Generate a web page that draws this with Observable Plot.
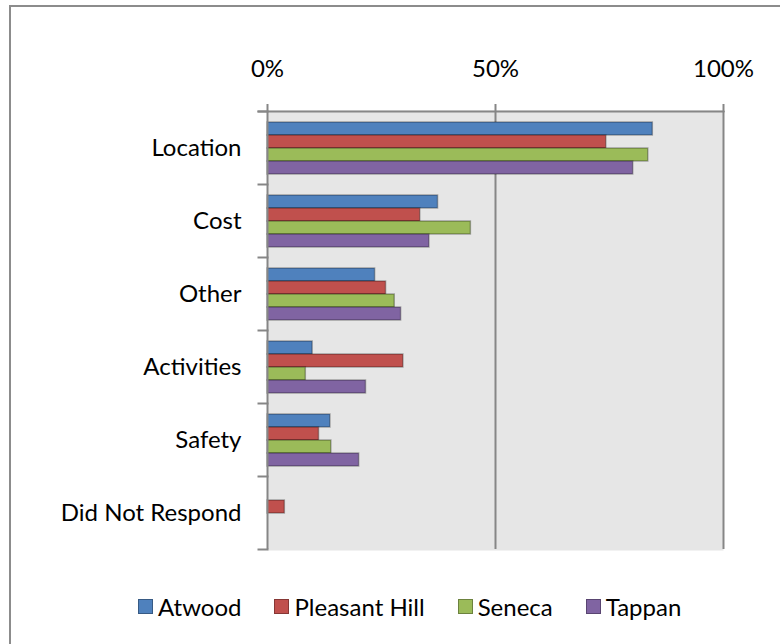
<!DOCTYPE html>
<html>
<head>
<meta charset="utf-8">
<script src="https://cdn.jsdelivr.net/npm/d3@7"></script>
<script src="https://cdn.jsdelivr.net/npm/@observablehq/plot@0.6"></script>
<style>
  html, body { margin: 0; padding: 0; background: #fff; overflow: hidden; width: 780px; height: 644px; }
  #border { position: absolute; left: 9px; top: 5px; width: 900px; height: 900px; border: 2px solid #8c8c8c; pointer-events: none; }
  #chart { position: absolute; left: 0; top: 0; }
  #legend { position: absolute; left: 138px; top: 592px; display: flex; align-items: center; font-family: Lato, sans-serif; font-size: 24px; color: #000; }
  .item { display: flex; align-items: center; margin-right: 33px; }
  .sw { width: 15px; height: 15px; margin-right: 5px; box-sizing: border-box; border: 1.5px solid rgba(0,0,0,0.3); }
</style>
</head>
<body>
<div id="border"></div>
<div id="chart"></div>
<div id="legend"></div>
<script>
const categories = ["Location", "Cost", "Other", "Activities", "Safety", "Did Not Respond"];
const series = ["Atwood", "Pleasant Hill", "Seneca", "Tappan"];
const atwood       = [0.845, 0.374, 0.236, 0.099, 0.138, 0];
const pleasantHill = [0.743, 0.335, 0.260, 0.298, 0.113, 0.038];
const seneca       = [0.835, 0.446, 0.279, 0.084, 0.140, 0];
const tappan       = [0.802, 0.355, 0.293, 0.216, 0.201, 0];
const tickValues = [0, 0.5, 1];
const tickLabels = ["0%", "50%", "100%"];
const colors = ["#4F81BD", "#C0504D", "#9BBB59", "#8064A2"];

const seriesValues = [atwood, pleasantHill, seneca, tappan];
const data = [];
categories.forEach((c, i) => {
  series.forEach((s, j) => {
    const v = seriesValues[j][i];
    if (v > 0) data.push({category: c, series: s, value: v});
  });
});

const W = 780, mL = 267, mR = 57;
const plotW = W - mL - mR;
const gray = "#868686";

const chart = Plot.plot({
  width: W,
  height: 570,
  marginLeft: mL,
  marginRight: mR,
  marginTop: 110,
  marginBottom: 20,
  style: {fontFamily: "Lato, sans-serif", fontSize: "24px", color: "#000", background: "transparent"},
  x: {domain: [0, 1]},
  y: {domain: series, paddingInner: 0, paddingOuter: 0.75, axis: null},
  fy: {domain: categories, padding: 0, label: null},
  color: {domain: series, range: colors},
  marks: [
    Plot.frame({fill: "#e6e6e6", stroke: "none", insetTop: -1, insetBottom: -1}),
    Plot.ruleX(tickValues.slice(1), {stroke: gray, strokeWidth: 2}),
    Plot.barX(data, {x: "value", y: "series", fy: "category", fill: "series",
      stroke: "#000", strokeOpacity: 0.3, strokeWidth: 1.5}),
    Plot.ruleX([0], {stroke: gray, strokeWidth: 2}),
    Plot.frame({anchor: "top", stroke: gray, strokeWidth: 2, insetLeft: -9, insetRight: plotW}),
    Plot.frame({anchor: "bottom", stroke: gray, strokeWidth: 2, insetLeft: -9, insetRight: plotW, facetAnchor: "bottom"}),
    Plot.frame({anchor: "top", stroke: gray, strokeWidth: 2, insetLeft: -9, facetAnchor: "top"}),
    Plot.axisX({anchor: "top", ticks: tickValues, tickFormat: (d) => tickLabels[tickValues.indexOf(d)],
      tickSize: 8, tickPadding: 27, stroke: gray, strokeWidth: 2, fill: "#000", label: null}),
    Plot.axisFy({anchor: "left", tickSize: 0, tickPadding: 26, fill: "#000", label: null})
  ]
});
document.getElementById("chart").appendChild(chart);

const legend = document.getElementById("legend");
series.forEach((s, i) => {
  const item = document.createElement("div");
  item.className = "item";
  const sw = document.createElement("div");
  sw.className = "sw";
  sw.style.background = colors[i];
  const t = document.createElement("span");
  t.textContent = s;
  item.appendChild(sw);
  item.appendChild(t);
  legend.appendChild(item);
});
</script>
</body>
</html>
